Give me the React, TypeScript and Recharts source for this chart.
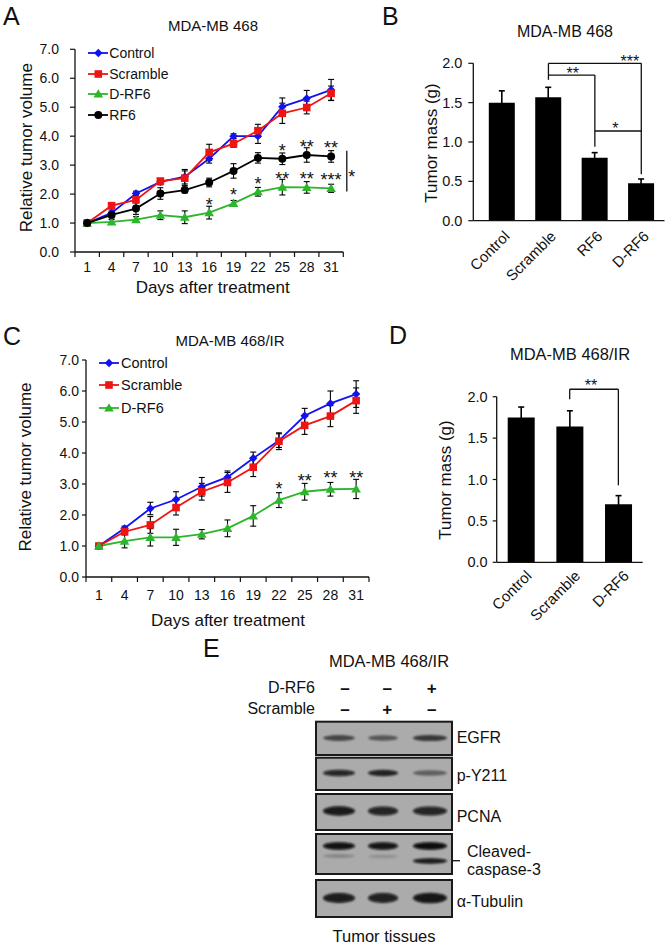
import React from 'react';
import {
  ComposedChart,
  BarChart,
  Bar,
  Line,
  XAxis,
  YAxis,
  ErrorBar,
  LabelList,
  Legend,
  ReferenceLine,
} from 'recharts';

const FONT = '"Liberation Sans", Arial, Helvetica, sans-serif';
const INK = '#111';

// ---- data -------------------------------------------------------------

const days = ['1', '4', '7', '10', '13', '16', '19', '22', '25', '28', '31'];

// A: MDA-MB 468, relative tumor volume
const controlA = [1.0, 1.35, 2.02, 2.42, 2.6, 3.22, 4.0, 4.0, 5.02, 5.3, 5.6];
const controlErrA = [0, 0.1, 0.08, 0.1, 0.25, 0.15, 0.08, 0.25, 0.3, 0.28, 0.36];
const scrambleA = [1.0, 1.6, 1.8, 2.45, 2.55, 3.44, 3.74, 4.19, 4.79, 4.99, 5.48];
const scrambleErrA = [0, 0.08, 0.2, 0.08, 0.25, 0.28, 0.12, 0.22, 0.35, 0.22, 0.25];
const dRf6A = [1.0, 1.04, 1.12, 1.27, 1.2, 1.36, 1.68, 2.08, 2.24, 2.23, 2.2];
const dRf6ErrA = [0, 0.08, 0.1, 0.15, 0.22, 0.22, 0.1, 0.15, 0.27, 0.2, 0.14];
const rf6A = [1.0, 1.28, 1.5, 2.02, 2.14, 2.4, 2.8, 3.25, 3.22, 3.35, 3.3];
const rf6ErrA = [0, 0.1, 0.2, 0.2, 0.1, 0.15, 0.25, 0.18, 0.2, 0.25, 0.2];
const rf6StarsA = ['', '', '', '', '', '', '', '', '*', '**', '**'];
const dRf6StarsA = ['', '', '', '', '', '*', '*', '*', '**', '**', '***'];
const endBracketA = [3.5, 2.09]; // RF6 vs D-RF6 on day 31

// C: MDA-MB 468/IR, relative tumor volume
const controlC = [1.0, 1.57, 2.21, 2.5, 2.91, 3.22, 3.83, 4.4, 5.2, 5.6, 5.9];
const controlErrC = [0, 0.07, 0.2, 0.25, 0.3, 0.2, 0.2, 0.22, 0.24, 0.4, 0.43];
const scrambleC = [1.0, 1.46, 1.68, 2.24, 2.75, 3.05, 3.54, 4.38, 4.89, 5.19, 5.69];
const scrambleErrC = [0, 0.1, 0.27, 0.24, 0.27, 0.32, 0.3, 0.27, 0.29, 0.34, 0.41];
const dRf6C = [1.0, 1.16, 1.28, 1.28, 1.38, 1.57, 1.97, 2.48, 2.75, 2.83, 2.84];
const dRf6ErrC = [0, 0.22, 0.28, 0.26, 0.15, 0.27, 0.33, 0.24, 0.27, 0.22, 0.31];
const dRf6StarsC = ['', '', '', '', '', '', '', '*', '**', '**', '**'];

// B: MDA-MB 468, tumor mass
const groupsB = ['Control', 'Scramble', 'RF6', 'D-RF6'];
const massB = [1.5, 1.57, 0.8, 0.475];
const massErrB = [0.15, 0.125, 0.065, 0.055];
const bracketsB = [
  { from: 'Scramble', to: 'Scramble', y1: 1.79, y2: 2.0, star: '' },
  { from: 'Scramble', to: 'D-RF6', y1: 2.0, y2: 2.0, star: '***' },
  { from: 'Scramble', to: 'RF6', y1: 1.85, y2: 1.85, star: '**' },
  { from: 'RF6', to: 'RF6', y1: 1.85, y2: 0.94, star: '' },
  { from: 'RF6', to: 'D-RF6', y1: 1.14, y2: 1.14, star: '*' },
  { from: 'D-RF6', to: 'D-RF6', y1: 2.0, y2: 0.59, star: '' },
];

// D: MDA-MB 468/IR, tumor mass
const groupsD = ['Control', 'Scramble', 'D-RF6'];
const massD = [1.75, 1.64, 0.7];
const massErrD = [0.125, 0.19, 0.105];
const bracketsD = [
  { from: 'Scramble', to: 'Scramble', y1: 1.97, y2: 2.09, star: '' },
  { from: 'Scramble', to: 'D-RF6', y1: 2.09, y2: 2.09, star: '**' },
  { from: 'D-RF6', to: 'D-RF6', y1: 2.09, y2: 0.93, star: '' },
];

// E: western blot band strength (0..1) per lane
const dRf6Signs = ['–', '–', '+'];
const scrambleSigns = ['–', '+', '–'];
const egfrBand = [0.6, 0.5, 0.68];
const pY211Band = [0.85, 0.8, 0.45];
const pcnaBand = [0.92, 0.86, 0.86];
const cleavedBand = [0.97, 0.95, 1.0];
const cleavedLowBand = [0.22, 0.16, 0.92];
const tubulinBand = [0.9, 0.88, 0.94];

// ---- tables ------------------------------------------------------------

const dataA = days.map((day, i) => ({
  day,
  control: controlA[i],
  controlErr: controlErrA[i],
  scramble: scrambleA[i],
  scrambleErr: scrambleErrA[i],
  dRf6: dRf6A[i],
  dRf6Err: dRf6ErrA[i],
  rf6: rf6A[i],
  rf6Err: rf6ErrA[i],
  rf6Star: rf6StarsA[i],
  dRf6Star: dRf6StarsA[i],
}));

const dataC = days.map((day, i) => ({
  day,
  control: controlC[i],
  controlErr: controlErrC[i],
  scramble: scrambleC[i],
  scrambleErr: scrambleErrC[i],
  dRf6: dRf6C[i],
  dRf6Err: dRf6ErrC[i],
  dRf6Star: dRf6StarsC[i],
}));

const dataB = groupsB.map((group, i) => ({ group, mass: massB[i], err: massErrB[i] }));
const dataD = groupsD.map((group, i) => ({ group, mass: massD[i], err: massErrD[i] }));

type Series = { key: string; name: string; color: string; shape: string; stars?: string };

const seriesA: Series[] = [
  { key: 'control', name: 'Control', color: '#1212ee', shape: 'diamond' },
  { key: 'scramble', name: 'Scramble', color: '#ee1414', shape: 'square' },
  { key: 'dRf6', name: 'D-RF6', color: '#2db52d', shape: 'triangle', stars: 'dRf6Star' },
  { key: 'rf6', name: 'RF6', color: '#000', shape: 'circle', stars: 'rf6Star' },
];
const seriesC: Series[] = [
  { key: 'control', name: 'Control', color: '#1212ee', shape: 'diamond' },
  { key: 'scramble', name: 'Scramble', color: '#ee1414', shape: 'square' },
  { key: 'dRf6', name: 'D-RF6', color: '#2db52d', shape: 'triangle', stars: 'dRf6Star' },
];

// ---- helpers -----------------------------------------------------------

function Marker({ shape, cx, cy, color }: { shape: string; cx: number; cy: number; color: string }) {
  if (cx == null || cy == null) return null;
  if (shape === 'diamond')
    return <path d={`M${cx},${cy - 4.2}L${cx + 4.2},${cy}L${cx},${cy + 4.2}L${cx - 4.2},${cy}Z`} fill={color} />;
  if (shape === 'square') return <rect x={cx - 3.8} y={cy - 3.8} width={7.6} height={7.6} fill={color} />;
  if (shape === 'triangle')
    return <path d={`M${cx},${cy - 4.8}L${cx + 4.8},${cy + 3.6}L${cx - 4.8},${cy + 3.6}Z`} fill={color} />;
  return <circle cx={cx} cy={cy} r={4} fill={color} />;
}

const dotFor = (s: Series) => (p: any) =>
  <Marker key={`${s.key}-${p.index}`} shape={s.shape} cx={p.cx} cy={p.cy} color={s.color} />;

const legendContent = (series: Series[], fontSize: number, rowH: number, lineW: number, gap: number) => () =>
  (
    <div style={{ fontFamily: FONT, fontSize, color: INK }}>
      {series.map((s) => (
        <div key={s.key} style={{ display: 'flex', alignItems: 'center', height: rowH }}>
          <svg width={lineW} height={12} style={{ display: 'block' }}>
            <line x1={0} y1={6} x2={lineW} y2={6} stroke={s.color} strokeWidth={1.8} />
            <Marker shape={s.shape} cx={lineW / 2} cy={6} color={s.color} />
          </svg>
          <span style={{ marginLeft: gap }}>{s.name}</span>
        </div>
      ))}
    </div>
  );

// category ticks with tick marks on the band boundaries (Excel style)
const dayTick = (gap: number, half: number, size: number) => (p: any) => {
  const { x, y, payload } = p;
  const axisY = y - gap;
  const last = payload && payload.value === days[days.length - 1];
  return (
    <g>
      <line x1={x - half} x2={x - half} y1={axisY} y2={axisY + 5} stroke={INK} strokeWidth={1.2} />
      {last && <line x1={x + half} x2={x + half} y1={axisY} y2={axisY + 5} stroke={INK} strokeWidth={1.2} />}
      <text x={x} y={y} dy="0.71em" textAnchor="middle" fontSize={size} fill={INK}>
        {payload.value}
      </text>
    </g>
  );
};

const slantTick = (dx: number, size: number) => (p: any) => {
  const x = p.x + dx;
  const y = p.y;
  return (
    <text x={x} y={y} dy="0.71em" transform={`rotate(-45 ${x} ${y})`} textAnchor="end" fontSize={size} fill={INK}>
      {p.payload.value}
    </text>
  );
};

const yTitle = (text: string, cx: number, dy: number) => ({
  content: (p: any) => {
    const vb = p.viewBox || { x: 0, y: 0, width: 0, height: 0 };
    const x = vb.x + cx;
    const y = vb.y + vb.height / 2 + dy;
    return (
      <text x={x} y={y} transform={`rotate(-90 ${x} ${y})`} textAnchor="middle" dominantBaseline="central" fontSize={17} fill={INK}>
        {text}
      </text>
    );
  },
});

const xTitle = (text: string, dx: number, dy: number) => ({
  content: (p: any) => {
    const vb = p.viewBox || { x: 0, y: 0, width: 0, height: 0 };
    return (
      <text x={vb.x + vb.width / 2 + dx} y={vb.y + dy} textAnchor="middle" fontSize={17} fill={INK}>
        {text}
      </text>
    );
  },
});

const starLabel = (text: string, dx: number, dy: number, size: number) => ({
  content: (p: any) => {
    const vb = p.viewBox || { x: 0, y: 0, width: 0, height: 0 };
    return (
      <text x={vb.x + vb.width / 2 + dx} y={vb.y + dy} textAnchor="middle" fontSize={size} fill={INK}>
        {text}
      </text>
    );
  },
});

const fmt1 = (v: number) => v.toFixed(1);

// ---- panels ------------------------------------------------------------

function PanelA() {
  const W = 360, H = 300, left = 75, right = 343.3, top = 49.3, bottom = 252;
  const half = (right - left) / days.length / 2;
  return (
    <ComposedChart width={W} height={H} data={dataA} margin={{ top, right: W - right, bottom: 0, left: 0 }}>
      <XAxis
        dataKey="day"
        scale="band"
        height={H - bottom}
        interval={0}
        tickLine={false}
        tickSize={0}
        tickMargin={10}
        axisLine={{ stroke: INK, strokeWidth: 1.3 }}
        tick={dayTick(10, half, 14)}
        label={xTitle('Days after treatment', 3.5, 40.7)}
      />
      <YAxis
        type="number"
        domain={[0, 7]}
        ticks={[0, 1, 2, 3, 4, 5, 6, 7]}
        tickFormatter={fmt1}
        width={left}
        tickSize={5}
        tickMargin={11}
        tick={{ fontSize: 14, fill: INK }}
        axisLine={{ stroke: INK, strokeWidth: 1.3 }}
        tickLine={{ stroke: INK, strokeWidth: 1.2 }}
        label={yTitle('Relative tumor volume', 27, -3)}
      />
      <Legend
        layout="vertical"
        align="center"
        verticalAlign="middle"
        wrapperStyle={{ left: 87.7, top: 43, width: 'auto' }}
        content={legendContent(seriesA, 14, 20.6, 20.6, 1)}
      />
      {seriesA.map((s) => (
        <Line
          key={s.key}
          dataKey={s.key}
          name={s.name}
          stroke={s.color}
          strokeWidth={1.8}
          dot={dotFor(s)}
          activeDot={false}
          isAnimationActive={false}
        >
          <ErrorBar dataKey={`${s.key}Err`} width={3} stroke="#000" strokeWidth={1.1} direction="y" />
          {s.stars && <LabelList dataKey={s.stars} position="top" offset={2} fontSize={18} fill={INK} />}
        </Line>
      ))}
      <ReferenceLine
        segment={[
          { x: days[days.length - 1], y: endBracketA[0] },
          { x: days[days.length - 1], y: endBracketA[1] },
        ]}
        position="end"
        ifOverflow="visible"
        stroke={INK}
        strokeWidth={1.3}
        shape={(p: any) => (
          <line x1={p.x1 + 3.5} y1={p.y1} x2={p.x2 + 3.5} y2={p.y2} stroke={INK} strokeWidth={1.3} />
        )}
        label={starLabel('*', 8.4, 32, 18)}
      />
    </ComposedChart>
  );
}

function PanelC() {
  const W = 390, H = 310, left = 86, right = 369, top = 40, bottom = 257;
  const half = (right - left) / days.length / 2;
  return (
    <ComposedChart width={W} height={H} data={dataC} margin={{ top, right: W - right, bottom: 0, left: 0 }}>
      <XAxis
        dataKey="day"
        scale="band"
        height={H - bottom}
        interval={0}
        tickLine={false}
        tickSize={0}
        tickMargin={13}
        axisLine={{ stroke: INK, strokeWidth: 1.3 }}
        tick={dayTick(13, half, 14)}
        label={xTitle('Days after treatment', 0.5, 49)}
      />
      <YAxis
        type="number"
        domain={[0, 7]}
        ticks={[0, 1, 2, 3, 4, 5, 6, 7]}
        tickFormatter={fmt1}
        width={left}
        tickSize={4}
        tickMargin={3}
        tick={{ fontSize: 14, fill: INK }}
        axisLine={{ stroke: INK, strokeWidth: 1.3 }}
        tickLine={{ stroke: INK, strokeWidth: 1.2 }}
        label={yTitle('Relative tumor volume', 25, -1.5)}
      />
      <Legend
        layout="vertical"
        align="center"
        verticalAlign="middle"
        wrapperStyle={{ left: 99, top: 31.7, width: 'auto' }}
        content={legendContent(seriesC, 14.5, 22.5, 20, 2)}
      />
      {seriesC.map((s) => (
        <Line
          key={s.key}
          dataKey={s.key}
          name={s.name}
          stroke={s.color}
          strokeWidth={1.8}
          dot={dotFor(s)}
          activeDot={false}
          isAnimationActive={false}
        >
          <ErrorBar dataKey={`${s.key}Err`} width={3} stroke="#000" strokeWidth={1.1} direction="y" />
          {s.stars && <LabelList dataKey={s.stars} position="top" offset={5} fontSize={18} fill={INK} />}
        </Line>
      ))}
    </ComposedChart>
  );
}

function MassChart(props: {
  data: any[];
  brackets: typeof bracketsB;
  starShift: number[];
  W: number;
  H: number;
  left: number;
  right: number;
  top: number;
  bottom: number;
  padLeft: number;
  barSize: number;
  tickDx: number;
  tickGap: number;
  yTickMargin: number;
  yTickSize: number;
  titleX: number;
  titleDy: number;
  starDy: number;
}) {
  const p = props;
  return (
    <BarChart
      width={p.W}
      height={p.H}
      data={p.data}
      margin={{ top: p.top, right: p.W - p.right, bottom: 0, left: 0 }}
      barSize={p.barSize}
    >
      <XAxis
        dataKey="group"
        height={p.H - p.bottom}
        padding={{ left: p.padLeft, right: 0 }}
        interval={0}
        tickLine={false}
        tickSize={0}
        tickMargin={p.tickGap}
        axisLine={{ stroke: INK, strokeWidth: 1.3 }}
        tick={slantTick(p.tickDx, 15)}
      />
      <YAxis
        type="number"
        domain={[0, 2]}
        ticks={[0, 0.5, 1, 1.5, 2]}
        tickFormatter={fmt1}
        width={p.left}
        tickSize={p.yTickSize}
        tickMargin={p.yTickMargin}
        tick={{ fontSize: 14.5, fill: INK }}
        axisLine={{ stroke: INK, strokeWidth: 1.3 }}
        tickLine={{ stroke: INK, strokeWidth: 1.2 }}
        label={yTitle('Tumor mass (g)', p.titleX, p.titleDy)}
      />
      <Bar dataKey="mass" fill="#000" isAnimationActive={false}>
        <ErrorBar dataKey="err" width={3} stroke="#000" strokeWidth={1.6} direction="y" />
      </Bar>
      {p.brackets.map((b, i) => (
        <ReferenceLine
          key={i}
          segment={[
            { x: b.from, y: b.y1 },
            { x: b.to, y: b.y2 },
          ]}
          ifOverflow="visible"
          stroke={INK}
          strokeWidth={1.3}
          label={b.star ? starLabel(b.star, p.starShift[i], p.starDy, 16) : undefined}
        />
      ))}
    </BarChart>
  );
}

// ---- western blot (panel E) ---------------------------------------------

const laneX = [339, 383, 430];
const laneRx = [16, 15, 17];
const blotLeft = 316;
const blotRight = 452;

function Bands({ values, y, ry }: { values: number[]; y: number | number[]; ry: number }) {
  return (
    <g filter="url(#blur)">
      {values.map((v, i) => (
        <ellipse
          key={i}
          cx={laneX[i]}
          cy={Array.isArray(y) ? y[i] : y}
          rx={laneRx[i]}
          ry={ry * (0.7 + 0.45 * v)}
          fill={`rgba(8,8,8,${v})`}
        />
      ))}
    </g>
  );
}

function Blot() {
  const boxes = [
    [721.7, 755],
    [757.7, 790],
    [794, 830],
    [834, 874],
    [880, 917],
  ];
  return (
    <g>
      <defs>
        <filter id="blur" x="-20%" y="-100%" width="140%" height="300%">
          <feGaussianBlur stdDeviation="1.1" />
        </filter>
      </defs>
      {boxes.map(([t, b], i) => (
        <rect key={i} x={blotLeft} y={t} width={blotRight - blotLeft} height={b - t} fill="#ababab" stroke="#1a1a1a" strokeWidth={2} />
      ))}
      <Bands values={egfrBand} y={738} ry={3} />
      <Bands values={pY211Band} y={773} ry={3} />
      <Bands values={pcnaBand} y={811} ry={4.2} />
      <Bands values={cleavedBand} y={846} ry={3.3} />
      <Bands values={cleavedLowBand} y={[856, 856.5, 861]} ry={2.4} />
      <Bands values={tubulinBand} y={898} ry={4.6} />
      <g fontSize={16} fill={INK}>
        <text x={456.7} y={743}>EGFR</text>
        <text x={456.7} y={781}>p-Y211</text>
        <text x={456.7} y={821.5}>PCNA</text>
        <text x={467} y={856.5}>Cleaved-</text>
        <text x={467} y={875}>caspase-3</text>
        <text x={456.7} y={906.5}>α-Tubulin</text>
      </g>
      <line x1={452.7} x2={460} y1={860.7} y2={860.7} stroke={INK} strokeWidth={1.3} />
      <g fontSize={16} fill={INK} textAnchor="end">
        <text x={315} y={693}>D-RF6</text>
        <text x={315} y={713.5}>Scramble</text>
      </g>
      <g fontSize={17} fill={INK} textAnchor="middle" fontWeight="bold">
        {dRf6Signs.map((s, i) => (
          <text key={`d${i}`} x={[345, 387.3, 431.7][i]} y={693.5}>{s}</text>
        ))}
        {scrambleSigns.map((s, i) => (
          <text key={`s${i}`} x={[345, 387.3, 431.7][i]} y={714.5}>{s}</text>
        ))}
      </g>
      <text x={389} y={667} fontSize={16.5} textAnchor="middle" fill={INK}>MDA-MB 468/IR</text>
      <text x={384} y={942} fontSize={16.5} textAnchor="middle" fill={INK}>Tumor tissues</text>
    </g>
  );
}

export default function App() {
  return (
    <div
      style={{
        position: 'absolute',
        left: 0,
        top: 0,
        width: 670,
        height: 946,
        background: '#fff',
        fontFamily: FONT,
        color: INK,
        overflow: 'hidden',
      }}
    >
      <div style={{ position: 'absolute', left: 0, top: 0 }}>
        <PanelA />
      </div>
      <div style={{ position: 'absolute', left: 400, top: 0 }}>
        <MassChart
          data={dataB}
          brackets={bracketsB}
          starShift={[0, 35, 1, 0, -2.7, 0]}
          W={270}
          H={310}
          left={73.3}
          right={264.5}
          top={63.3}
          bottom={220.7}
          padLeft={5.5}
          barSize={26}
          tickDx={1}
          tickGap={9}
          yTickMargin={6}
          yTickSize={5}
          titleX={31.7}
          titleDy={1}
          starDy={3.5}
        />
      </div>
      <div style={{ position: 'absolute', left: 0, top: 320 }}>
        <PanelC />
      </div>
      <div style={{ position: 'absolute', left: 400, top: 320 }}>
        <MassChart
          data={dataD}
          brackets={bracketsD}
          starShift={[0, -3, 0]}
          W={270}
          H={330}
          left={96.7}
          right={242.7}
          top={76.7}
          bottom={242.3}
          padLeft={0}
          barSize={27}
          tickDx={4}
          tickGap={7}
          yTickMargin={5}
          yTickSize={4}
          titleX={45}
          titleDy={0.5}
          starDy={2}
        />
      </div>
      <svg
        width={670}
        height={946}
        style={{ position: 'absolute', left: 0, top: 0, pointerEvents: 'none' }}
        fontFamily={FONT}
      >
        <g fontSize={25} fill={INK}>
          <text x={3} y={25}>A</text>
          <text x={382} y={25}>B</text>
          <text x={3} y={345}>C</text>
          <text x={389} y={344}>D</text>
          <text x={203} y={657}>E</text>
        </g>
        <g textAnchor="middle" fill={INK}>
          <text x={213} y={30.7} fontSize={15}>MDA-MB 468</text>
          <text x={565} y={36.5} fontSize={16}>MDA-MB 468</text>
          <text x={230} y={346} fontSize={15}>MDA-MB 468/IR</text>
          <text x={570} y={360} fontSize={16.5}>MDA-MB 468/IR</text>
        </g>
        <Blot />
      </svg>
    </div>
  );
}
